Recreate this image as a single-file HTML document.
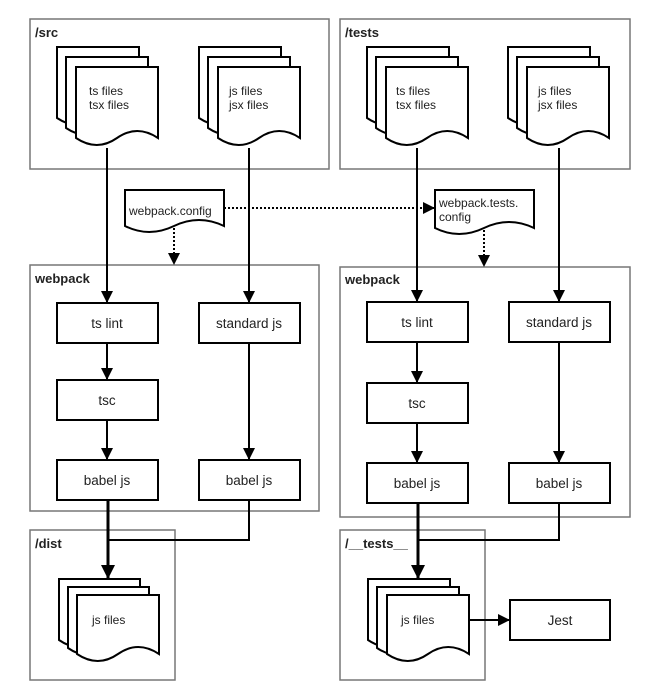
<!DOCTYPE html>
<html><head><style>body{margin:0;background:#fff}svg{display:block}text{font-family:"Liberation Sans",Arial,sans-serif;fill:#222}</style></head>
<body>
<svg width="650" height="700" viewBox="0 0 650 700" xmlns="http://www.w3.org/2000/svg">
<defs>
<marker id="a" markerWidth="12" markerHeight="12" refX="11" refY="6" orient="auto" markerUnits="userSpaceOnUse"><path d="M0,0 L12,6 L0,12 z" fill="#000"/></marker>
<marker id="b" markerWidth="14" markerHeight="14" refX="13" refY="7" orient="auto" markerUnits="userSpaceOnUse"><path d="M0,0 L14,7 L0,14 z" fill="#000"/></marker>
</defs>
<g fill="none" stroke="#777" stroke-width="1.5">
<rect x="30" y="19" width="299" height="150"/>
<rect x="340" y="19" width="290" height="150"/>
<rect x="30" y="265" width="289" height="246"/>
<rect x="340" y="267" width="290" height="250"/>
<rect x="30" y="530" width="145" height="150"/>
<rect x="340" y="530" width="145" height="150"/>
</g>
<g font-weight="bold" font-size="13">
<text x="35" y="37">/src</text><text x="345" y="37">/tests</text>
<text x="35" y="283">webpack</text><text x="345" y="284">webpack</text>
<text x="35" y="548">/dist</text><text x="345" y="548">/__tests__</text>
</g>
<g fill="#fff" stroke="#000" stroke-width="2">
<path d="M57,47 H139 V118 Q118,104 98,118 Q78,132 57,118 Z"/>
<path d="M66,57 H148 V128 Q127,114 107,128 Q87,142 66,128 Z"/>
<path d="M76,67 H158 V138 Q137,124 117,138 Q97,152 76,138 Z"/>
<path d="M199,47 H281 V118 Q260,104 240,118 Q220,132 199,118 Z"/>
<path d="M208,57 H290 V128 Q269,114 249,128 Q229,142 208,128 Z"/>
<path d="M218,67 H300 V138 Q279,124 259,138 Q239,152 218,138 Z"/>
<path d="M367,47 H449 V118 Q428,104 408,118 Q388,132 367,118 Z"/>
<path d="M376,57 H458 V128 Q437,114 417,128 Q397,142 376,128 Z"/>
<path d="M386,67 H468 V138 Q447,124 427,138 Q407,152 386,138 Z"/>
<path d="M508,47 H590 V118 Q569,104 549,118 Q529,132 508,118 Z"/>
<path d="M517,57 H599 V128 Q578,114 558,128 Q538,142 517,128 Z"/>
<path d="M527,67 H609 V138 Q588,124 568,138 Q548,152 527,138 Z"/>
<path d="M59,579 H140 V640 Q119,626 99,640 Q79,654 59,640 Z"/>
<path d="M68,587 H149 V648 Q128,634 108,648 Q88,662 68,648 Z"/>
<path d="M77,595 H159 V654 Q138,640 118,654 Q98,668 77,654 Z"/>
<path d="M368,579 H450 V640 Q429,626 409,640 Q389,654 368,640 Z"/>
<path d="M377,587 H459 V648 Q438,634 418,648 Q398,662 377,648 Z"/>
<path d="M387,595 H469 V654 Q448,640 428,654 Q408,668 387,654 Z"/>
<path d="M125,190 H224 V226 Q199,214 174,226 Q149,238 125,226 Z"/>
<path d="M435,190 H534 V228 Q509,216 484,228 Q459,240 435,228 Z"/>
<rect x="57" y="303" width="101" height="40"/><rect x="199" y="303" width="101" height="40"/>
<rect x="57" y="380" width="101" height="40"/>
<rect x="57" y="460" width="101" height="40"/><rect x="199" y="460" width="101" height="40"/>
<rect x="367" y="302" width="101" height="40"/><rect x="509" y="302" width="101" height="40"/>
<rect x="367" y="383" width="101" height="40"/>
<rect x="367" y="463" width="101" height="40"/><rect x="509" y="463" width="101" height="40"/>
<rect x="510" y="600" width="100" height="40"/>
</g>
<g font-size="12">
<text x="89" y="95">ts files</text><text x="89" y="109">tsx files</text>
<text x="229" y="95">js files</text><text x="229" y="109">jsx files</text>
<text x="396" y="95">ts files</text><text x="396" y="109">tsx files</text>
<text x="538" y="95">js files</text><text x="538" y="109">jsx files</text>
<text x="92" y="624">js files</text><text x="401" y="624">js files</text>
<text x="129" y="215">webpack.config</text>
<text x="439" y="207">webpack.tests.</text><text x="439" y="221">config</text>
</g>
<g font-size="13.5" text-anchor="middle">
<text x="107" y="328">ts lint</text><text x="249" y="328">standard js</text>
<text x="107" y="405">tsc</text>
<text x="107" y="485">babel js</text><text x="249" y="485">babel js</text>
<text x="417" y="327">ts lint</text><text x="559" y="327">standard js</text>
<text x="417" y="408">tsc</text>
<text x="417" y="488">babel js</text><text x="559" y="488">babel js</text>
<text x="560" y="625">Jest</text>
</g>
<g stroke="#000" stroke-width="2" fill="none" marker-end="url(#a)">
<path d="M107,148 V302"/><path d="M249,148 V302"/>
<path d="M107,343 V379"/><path d="M107,420 V459"/><path d="M249,343 V459"/>
<path d="M417,148 V301"/><path d="M559,148 V301"/>
<path d="M417,342 V382"/><path d="M417,423 V462"/><path d="M559,342 V462"/>
<path d="M469,620 H509"/>
</g>
<g stroke="#000" stroke-width="2" fill="none">
<path d="M249,500 V540 H108"/><path d="M559,503 V540 H418"/>
</g>
<g stroke="#000" stroke-width="3" fill="none" marker-end="url(#b)">
<path d="M108,500 V578"/><path d="M418,503 V578"/>
</g>
<g stroke="#000" stroke-width="2" stroke-dasharray="2,2" fill="none" marker-end="url(#a)">
<path d="M174,228 V264"/><path d="M484,230 V266"/><path d="M224,208 H434"/>
</g>
</svg>
</body></html>
